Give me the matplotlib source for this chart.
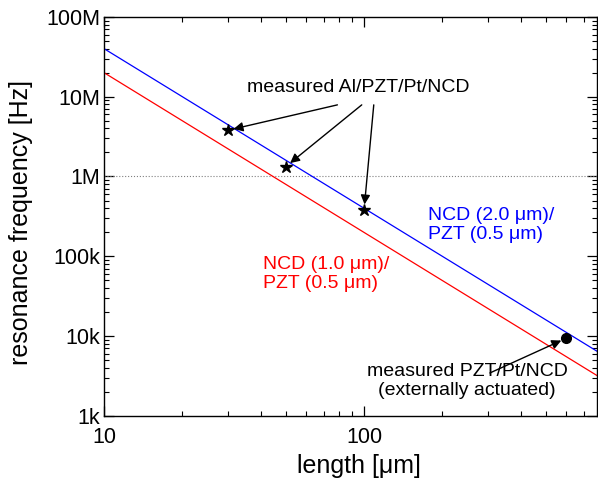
# Resonance frequency vs. cantilever length (log-log)
import matplotlib
matplotlib.use("Agg")
import matplotlib.pyplot as plt
from matplotlib.ticker import LogLocator, NullFormatter

plt.rcParams['font.family'] = ['Liberation Sans', 'DejaVu Sans']

# model lines (end points)
len_line = [10, 800]
freq_ncd2 = [4.0e7, 6.25e3]   # NCD 2.0 um / PZT 0.5 um
freq_ncd1 = [2.0e7, 3.1e3]    # NCD 1.0 um / PZT 0.5 um

# measurements
len_star = [30, 50, 100]
freq_star = [3.8e6, 1.33e6, 3.8e5]
len_dot = [600]
freq_dot = [9.4e3]

yticks = [1e3, 1e4, 1e5, 1e6, 1e7, 1e8]
ytick_labels = ['1k', '10k', '100k', '1M', '10M', '100M']
xticks = [10, 100]
xtick_labels = ['10', '100']

fig = plt.figure(figsize=(5.98, 4.83), dpi=100)
ax = fig.add_axes([0.174, 0.139, 0.825, 0.826])

ax.set_xscale('log')
ax.set_yscale('log')
ax.set_xlim(10, 790)
ax.set_ylim(1e3, 1e8)

ax.axhline(1e6, color='gray', linestyle=':', linewidth=0.8)
ax.plot(len_line, freq_ncd2, color='blue', linewidth=0.9)
ax.plot(len_line, freq_ncd1, color='red', linewidth=0.9)
ax.plot(len_star, freq_star, linestyle='none', marker='*', color='black', markersize=9)
ax.plot(len_dot, freq_dot, linestyle='none', marker='o', color='black', markersize=7)

ax.set_yticks(yticks)
ax.set_yticklabels(ytick_labels)
ax.set_xticks(xticks)
ax.set_xticklabels(xtick_labels)
ax.xaxis.set_minor_locator(LogLocator(base=10, subs=range(2, 10)))
ax.yaxis.set_minor_locator(LogLocator(base=10, subs=range(2, 10)))
ax.xaxis.set_minor_formatter(NullFormatter())
ax.yaxis.set_minor_formatter(NullFormatter())
ax.tick_params(which='both', direction='in', top=True, right=True, labelsize=15.5)
ax.tick_params(which='major', length=7, width=0.9, pad=3)
ax.tick_params(which='minor', length=3.5, width=0.8)
ax.tick_params(axis='x', which='major', pad=8)
for s in ax.spines.values():
    s.set_linewidth(1.0)

ax.set_xlabel('length [μm]', fontsize=18)
ax.set_ylabel('resonance frequency [Hz]', fontsize=18)
ax.xaxis.set_label_coords(0.516, -0.095)
ax.yaxis.set_label_coords(-0.144, 0.485)

# labels for the model lines
ax.text(176, 2.45e5, 'NCD (2.0 μm)/\nPZT (0.5 μm)', color='blue', fontsize=14,
        ha='left', va='center', linespacing=1.15)
ax.text(41, 6.0e4, 'NCD (1.0 μm)/\nPZT (0.5 μm)', color='red', fontsize=14,
        ha='left', va='center', linespacing=1.15)

# arrows to measured points
arrow = dict(arrowstyle='-|>', color='black', lw=1.0, mutation_scale=14, shrinkA=0, shrinkB=4)
ax.text(95, 1.3e7, 'measured Al/PZT/Pt/NCD', fontsize=14, ha='center', va='center')
ax.annotate('', xy=(len_star[0], freq_star[0]), xytext=(79, 7.9e6), arrowprops=arrow)
ax.annotate('', xy=(len_star[1], freq_star[1]), xytext=(98, 7.9e6), arrowprops=arrow)
ax.annotate('', xy=(len_star[2], freq_star[2]), xytext=(109, 7.9e6), arrowprops=arrow)

ax.text(249, 2.74e3, 'measured PZT/Pt/NCD\n(externally actuated)', fontsize=14,
        ha='center', va='center', linespacing=1.15)
ax.annotate('', xy=(len_dot[0], freq_dot[0]), xytext=(305, 3.45e3), arrowprops=arrow)

fig.savefig('out.png', dpi=100)
